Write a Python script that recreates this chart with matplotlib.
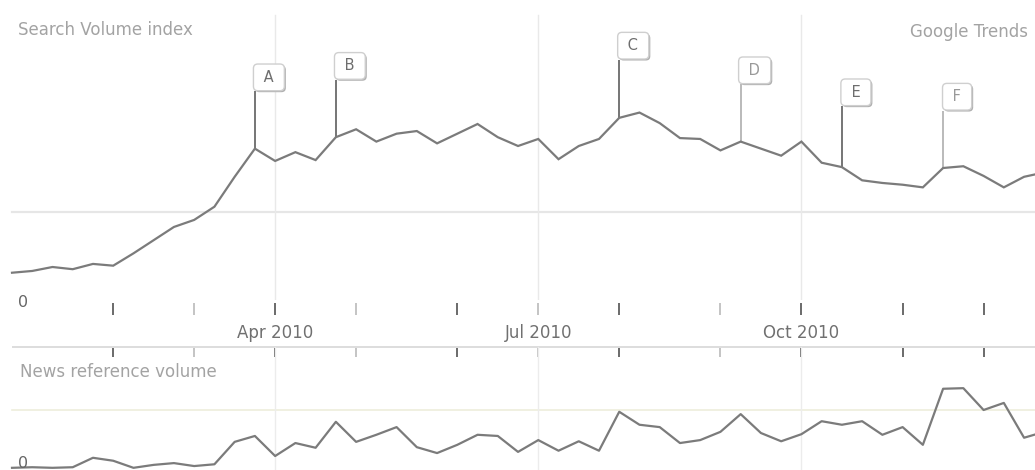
"""Google Trends style chart: search volume index with news reference volume."""

import matplotlib

matplotlib.use("Agg")
import matplotlib.dates as mdates
import matplotlib.pyplot as plt
import pandas as pd

# weekly data, first week starts Sunday 2010-01-03
WEEK_START = "2010-01-03"

search_index = [
    0.31, 0.33, 0.375, 0.35, 0.41, 0.39, 0.53, 0.68, 0.83, 0.91,
    1.06, 1.40, 1.72, 1.58, 1.68, 1.59, 1.85, 1.94, 1.80, 1.89,
    1.92, 1.78, 1.89, 2.00, 1.85, 1.75, 1.83, 1.60, 1.75, 1.83,
    2.07, 2.13, 2.01, 1.84, 1.83, 1.70, 1.80, 1.72, 1.64, 1.80,
    1.56, 1.51, 1.36, 1.33, 1.31, 1.28, 1.50, 1.52, 1.41, 1.28,
    1.40, 1.45,
]

news_volume = [
    0.02, 0.03, 0.02, 0.03, 0.19, 0.14, 0.02, 0.07, 0.10, 0.05,
    0.08, 0.46, 0.56, 0.22, 0.44, 0.36, 0.80, 0.46, 0.58, 0.71,
    0.37, 0.27, 0.41, 0.58, 0.56, 0.29, 0.49, 0.31, 0.47, 0.31,
    0.97, 0.75, 0.71, 0.44, 0.49, 0.63, 0.93, 0.61, 0.47, 0.59,
    0.81, 0.75, 0.81, 0.58, 0.71, 0.41, 1.36, 1.37, 1.00, 1.12,
    0.53, 0.63,
]

event_letters = ["A", "B", "C", "D", "E", "F"]
event_weeks = [12, 16, 30, 36, 41, 46]
event_label_levels = [2.53, 2.66, 2.89, 2.61, 2.36, 2.31]
event_strong = [True, True, True, False, True, False]

quarter_months = [4, 7, 10]
quarter_labels = ["Apr 2010", "Jul 2010", "Oct 2010"]
light_tick_months = [3, 5, 7, 9]

W, H = 1035, 470
LINE = "#7b7b7b"
GRID = "#e6e6e6"
FONT = "DejaVu Sans"


def px_box(x0, y0, x1, y1):
    """Figure rectangle from pixel corners (origin top-left)."""
    return [x0 / W, 1 - y1 / H, (x1 - x0) / W, (y1 - y0) / H]


def main() -> None:
    plt.rcParams["font.family"] = FONT
    weeks = pd.date_range(WEEK_START, periods=len(search_index), freq="W-SUN")
    xs = mdates.date2num(weeks.to_pydatetime())
    step = xs[1] - xs[0]
    xlim = (xs[0] - 0.593 * step, xs[0] + 50.54 * step)
    x_line_start = 12 / W

    month_ticks = weeks[(weeks.day <= 7) & (weeks.month > 1)]
    month_x = mdates.date2num(month_ticks.to_pydatetime())
    quarter_x = [x for x, d in zip(month_x, month_ticks) if d.month in quarter_months]

    fig = plt.figure(figsize=(W / 100, H / 100), dpi=100)

    # --- top panel: search volume index
    ax = fig.add_axes(px_box(0, 0, W, 300))
    ax.set_xlim(xlim)
    ax.set_ylim(0, 300 / 88)
    ax.set_axis_off()
    ax.axhline(1.0, xmin=x_line_start, xmax=1, color=GRID, lw=1.6, zorder=1)
    for qx in quarter_x:
        ax.axvline(qx, ymin=0, ymax=0.95, color="#e9e9e9", lw=1, zorder=1)
    ax.plot(xs, search_index, color=LINE, lw=1.6, zorder=3, solid_joinstyle="miter")

    for letter, wk, level, strong in zip(
        event_letters, event_weeks, event_label_levels, event_strong
    ):
        x = xs[wk]
        stem_color = "#6a6a6a" if strong else "#b4b4b4"
        ax.vlines(x, search_index[wk], level - 0.16, color=stem_color, lw=1.3, zorder=2)
        box = dict(boxstyle="round,pad=0.4,rounding_size=0.3", lw=1)
        ax.annotate(
            " " + letter + " ", xy=(x, level), xytext=(15.5, -1.5),
            textcoords="offset pixels", ha="center", va="center",
            fontsize=10.5, color="#b0b0b0",
            bbox={**box, "fc": "#b0b0b0", "ec": "none"}, zorder=4,
        )
        ax.annotate(
            " " + letter + " ", xy=(x, level), xytext=(14, 0),
            textcoords="offset pixels", ha="center", va="center",
            fontsize=10.5, color="#6e6e6e" if strong else "#999999",
            bbox={**box, "fc": "white", "ec": "#cfcfcf"}, zorder=5,
        )

    ax.text(18 / W, 0.9, "Search Volume index", transform=ax.transAxes,
            ha="left", va="center", fontsize=12, color="#a3a3a3")
    ax.text(1028 / W, 0.893, "Google Trends", transform=ax.transAxes,
            ha="right", va="center", fontsize=12, color="#a3a3a3")
    ax.text(18 / W, -0.025, "0", transform=ax.get_yaxis_transform(),
            ha="left", va="center", fontsize=11.5, color="#666666")

    # --- strip between panels: month ticks and quarter labels
    strip = fig.add_axes(px_box(0, 300, W, 360))
    strip.set_xlim(xlim)
    strip.set_ylim(60, 0)
    strip.set_axis_off()
    strip.patch.set_alpha(0)
    for mx, d in zip(month_x, month_ticks):
        c = "#c4c4c4" if d.month in light_tick_months else "#6a6a6a"
        strip.vlines(mx, 3, 15, color=c, lw=1.4)
        strip.vlines(mx, 48, 57, color=c, lw=1.4)
    strip.hlines(47, xs[0], xlim[1], color="#dddddd", lw=1.4)
    for qx, lab in zip(quarter_x, quarter_labels):
        strip.text(qx, 33, lab, ha="center", va="center", fontsize=12, color="#707070")

    # --- bottom panel: news reference volume
    axb = fig.add_axes(px_box(0, 347, W, 470))
    axb.set_xlim(xlim)
    axb.set_ylim(-1 / 59, 122 / 59)
    axb.set_axis_off()
    axb.patch.set_alpha(0)
    axb.axhline(1.0, xmin=x_line_start, xmax=1, color="#eeeedc", lw=1.2, zorder=1)
    for qx in quarter_x:
        axb.axvline(qx, color="#ececec", lw=1, zorder=1)
    axb.plot(xs, news_volume, color=LINE, lw=1.6, zorder=3)
    axb.text(20 / W, 0.797, "News reference volume", transform=axb.transAxes,
             ha="left", va="center", fontsize=12, color="#a3a3a3")
    axb.text(18 / W, 0.09, "0", transform=axb.get_yaxis_transform(),
             ha="left", va="center", fontsize=11.5, color="#666666")

    fig.savefig("out.png", dpi=100)


if __name__ == "__main__":
    main()
